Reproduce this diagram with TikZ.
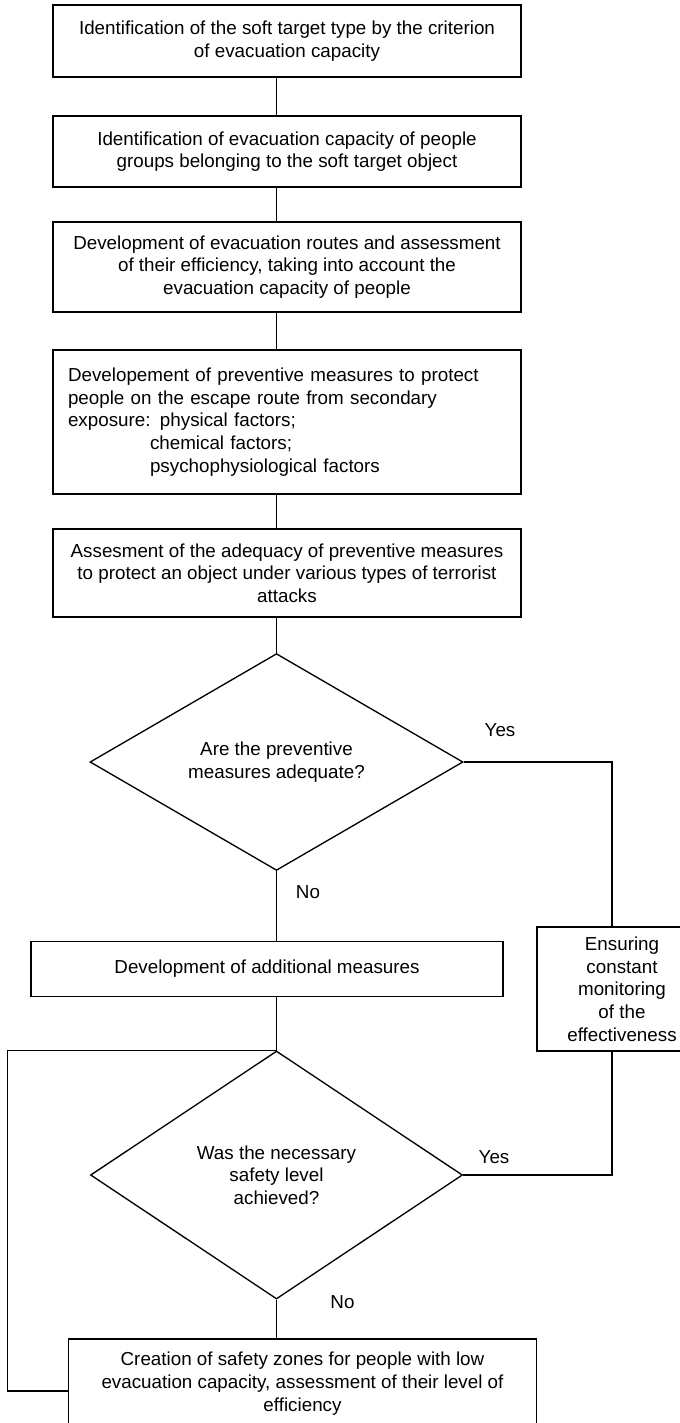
\documentclass[tikz,border=0pt]{standalone}
\usepackage{fontspec}
\setmainfont{Liberation Sans}
\usetikzlibrary{shapes.geometric}

\tikzset{every picture/.style={line width=1pt}}
\tikzset{
  txt/.style={font=\fontsize{14.1}{17}\selectfont},
  procbox/.style={txt, draw, rectangle, align=center, inner sep=0pt, minimum width=351pt},
  decision/.style={txt, draw, diamond, align=center, inner sep=0pt},
  lbl/.style={txt, inner sep=0pt}
}

\begin{document}
\begin{tikzpicture}[x=0.75pt,y=0.75pt,yscale=-1,xscale=1]
\useasboundingbox (0,0) rectangle (680,1423);

% Boxes of the main column
\node [procbox, minimum height=54pt] (ident) at (287,41) {Identification of the soft target type by the criterion\\of evacuation capacity};
\node [procbox, minimum height=53.25pt] (groups) at (287,151.5) {Identification of evacuation capacity of people\\groups belonging to the soft target object};
\node [procbox, minimum height=67.5pt] (routes) at (287,267) {Development of evacuation routes and assessment\\of their efficiency, taking into account the\\evacuation capacity of people};
\node [procbox, minimum height=108pt, text width=328.5pt, align=left] (prevent) at (287,422) {Developement of preventive measures to protect\\people on the escape route from secondary\\exposure: physical factors;\\\hspace*{61.5pt}chemical factors;\\\hspace*{61.5pt}psychophysiological factors};
\node [procbox, minimum height=66pt] (assess) at (287,573) {Assesment of the adequacy of preventive measures\\to protect an object under various types of terrorist\\attacks};

% First decision
\node [decision, minimum width=279.75pt, minimum height=159pt] (adequate) at (276.5,762) {Are the preventive\\measures adequate?};
\node [lbl] (yesA) at (500,730) {Yes};
\node [lbl] (noA) at (308,892) {No};

\node [procbox, minimum width=354pt, minimum height=41.25pt] (additional) at (267,969) {Development of additional measures};
\node [procbox, minimum width=127.5pt, minimum height=93.2pt] (monitor) at (622,989) {Ensuring\\constant\\monitoring\\of the\\effectiveness};

% Second decision
\node [decision, minimum width=279pt, minimum height=186pt] (safety) at (276.5,1175) {Was the necessary\\safety level\\achieved?};
\node [lbl] (yesB) at (494,1157) {Yes};
\node [lbl] (noB) at (342.5,1301.7) {No};

\node [procbox, minimum height=66.75pt] (zones) at (302.5,1383.5) {Creation of safety zones for people with low\\evacuation capacity, assessment of their level of\\efficiency};

% Connectors
\coordinate (cx) at (276.5,0);
\coordinate (rx) at (612,762);
\coordinate (lx) at (7.6,1391);
\draw (ident.south -| cx) -- (groups.north -| cx);
\draw (groups.south -| cx) -- (routes.north -| cx);
\draw (routes.south -| cx) -- (prevent.north -| cx);
\draw (prevent.south -| cx) -- (assess.north -| cx);
\draw (assess.south -| cx) -- (adequate.north);
\draw (adequate.south) -- (adequate.south |- additional.north);
\draw (adequate.east) -- (rx) -- (rx |- monitor.north);
\draw (safety.north |- additional.south) -- (safety.north);
\draw (rx |- monitor.south) -- (rx |- safety.east) -- (safety.east);
\draw (safety.south) -- (safety.south |- zones.north);
\draw (safety.north) -| (lx) -- (lx -| zones.west);

\end{tikzpicture}
\end{document}
